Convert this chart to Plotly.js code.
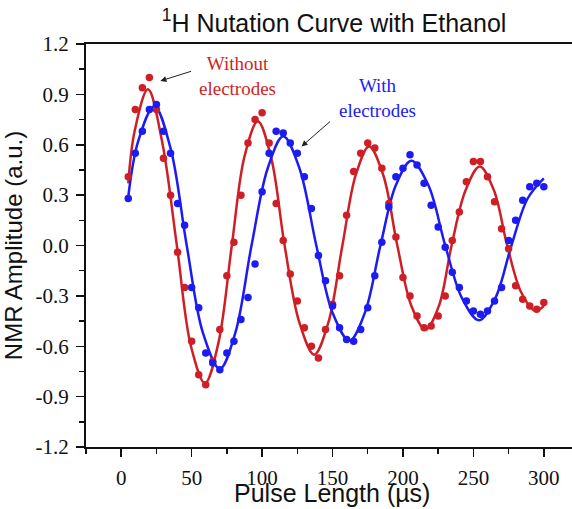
<!DOCTYPE html>
<html>
<head>
<meta charset="utf-8">
<script src="https://cdn.plot.ly/plotly-3.0.1.min.js"></script>
<style>html,body{margin:0;padding:0;background:#fff;}#chart{width:572px;height:509px;}</style>
</head>
<body>
<div id="chart"></div>
<script>
// Pulse lengths (µs)
var pulseX = [5,10,15,20,25,30,35,40,45,50,55,60,65,70,75,80,85,90,95,100,
  105,110,115,120,125,130,135,140,145,150,155,160,165,170,175,180,185,190,195,200,
  205,210,215,220,225,230,235,240,245,250,255,260,265,270,275,280,285,290,295,300];

// Without electrodes (red) measured amplitudes
var withoutY = [0.41,0.81,0.94,1.00,0.81,0.52,0.30,-0.04,-0.25,-0.57,-0.77,-0.83,-0.69,-0.50,-0.18,0.02,0.30,0.61,0.75,0.79,
  0.61,0.25,0.03,-0.17,-0.33,-0.49,-0.60,-0.67,-0.50,-0.35,-0.18,0.18,0.44,0.55,0.61,0.58,0.46,0.25,0.05,-0.19,
  -0.30,-0.42,-0.49,-0.48,-0.42,-0.30,0.03,0.20,0.38,0.50,0.50,0.41,0.26,0.10,-0.02,-0.24,-0.32,-0.36,-0.38,-0.34];

// With electrodes (blue) measured amplitudes
var withY = [0.28,0.55,0.68,0.81,0.84,0.68,0.55,0.25,0.12,-0.25,-0.37,-0.64,-0.70,-0.74,-0.64,-0.57,-0.44,-0.31,-0.11,0.32,
  0.55,0.68,0.67,0.61,0.55,0.41,0.22,-0.06,-0.21,-0.36,-0.49,-0.56,-0.57,-0.50,-0.37,-0.18,0.02,0.23,0.41,0.46,
  0.54,0.48,0.37,0.24,0.11,-0.01,-0.16,-0.25,-0.33,-0.39,-0.41,-0.39,-0.33,-0.25,0.03,0.15,0.27,0.35,0.37,0.35];

// Fitted curves (knots)
var redFitX = [5,9.5,19,29,39.5,49.5,59.5,69,78.5,87.5,97,106.5,116,126.5,137,147,157,166.5,176,186,196,206,216,225.5,234.5,244.5,254.5,264.5,274,284,294,300];
var redFitY = [0.37,0.68,0.93,0.62,0.00,-0.60,-0.82,-0.58,0.00,0.53,0.74,0.52,0.00,-0.46,-0.65,-0.46,0.00,0.42,0.59,0.42,0.00,-0.36,-0.50,-0.36,0.00,0.33,0.47,0.33,0.00,-0.28,-0.39,-0.36];
var blueFitX = [5,12,23.5,35,46.5,58,70,81,92.5,104,115,126.5,138.5,150,162,173,184,195,206,218,230,242,254,265.5,277,288.5,300];
var blueFitY = [0.29,0.62,0.83,0.58,0.00,-0.52,-0.735,-0.52,0.00,0.46,0.65,0.46,0.00,-0.40,-0.567,-0.40,0.00,0.36,0.505,0.36,0.00,-0.315,-0.445,-0.315,0.00,0.28,0.40];

var yTickVals = [-1.2,-0.9,-0.6,-0.3,0,0.3,0.6,0.9,1.2];
var yTickText = ['-1.2','-0.9','-0.6','-0.3','0.0','0.3','0.6','0.9','1.2'];

var RED = '#cf1f26', BLUE = '#1c1cf2';

var traces = [
  {x: redFitX, y: redFitY, mode: 'lines', line: {color: RED, width: 2.5, shape: 'spline', smoothing: 1}, hoverinfo: 'skip'},
  {x: blueFitX, y: blueFitY, mode: 'lines', line: {color: BLUE, width: 2.5, shape: 'spline', smoothing: 1}, hoverinfo: 'skip'},
  {x: pulseX, y: withoutY, mode: 'markers', marker: {color: RED, size: 7.5}, name: 'Without electrodes'},
  {x: pulseX, y: withY, mode: 'markers', marker: {color: BLUE, size: 7.5}, name: 'With electrodes'}
];

var serif = "'Liberation Serif', 'Times New Roman', serif";
var sans = "'Liberation Sans', Arial, sans-serif";

var layout = {
  width: 572, height: 509,
  margin: {l: 86, r: 0, t: 44, b: 62},
  paper_bgcolor: '#fff', plot_bgcolor: '#fff',
  font: {family: serif, size: 21, color: '#111'},
  showlegend: false,
  title: {text: '<sup>1</sup>H Nutation Curve with Ethanol', font: {family: sans, size: 25, color: '#111'},
          xref: 'container', x: 0.584, xanchor: 'center', yref: 'container', y: 0.955, yanchor: 'middle'},
  xaxis: {
    range: [-25, 320], tick0: 0, dtick: 50, showgrid: false, zeroline: false,
    showline: true, linecolor: '#111', linewidth: 2, mirror: true,
    ticks: 'outside', ticklen: 8, tickwidth: 1.5, tickcolor: '#111', ticklabelstandoff: 3,
    minor: {dtick: 25, ticks: 'outside', ticklen: 5, tickwidth: 1.5, tickcolor: '#111', showgrid: false},
    tickfont: {family: serif, size: 21, color: '#111'}
  },
  yaxis: {
    range: [-1.2, 1.2], tickmode: 'array', tickvals: yTickVals, ticktext: yTickText,
    showgrid: false, zeroline: false,
    showline: true, linecolor: '#111', linewidth: 2, mirror: false,
    ticks: 'outside', ticklen: 8, tickwidth: 1.5, tickcolor: '#111', ticklabelstandoff: 3,
    minor: {tickmode: 'linear', tick0: 0, dtick: 0.15, ticks: 'outside', ticklen: 5, tickwidth: 1.5, tickcolor: '#111', showgrid: false},
    tickfont: {family: serif, size: 21, color: '#111'},
    title: {text: 'NMR Amplitude (a.u.)', font: {family: sans, size: 24, color: '#111'}, standoff: 6}
  },
  annotations: [
    {xref: 'paper', yref: 'paper', x: 0.506, y: -0.153, xanchor: 'center', yanchor: 'bottom',
     text: 'Pulse Length (µs)', showarrow: false, font: {family: sans, size: 25, color: '#111'}},
    {x: 82.7, y: 1.01, xref: 'x', yref: 'y', text: 'Without<br>electrodes', showarrow: false,
     font: {family: serif, size: 19, color: RED}, align: 'center'},
    {x: 181.8, y: 0.88, xref: 'x', yref: 'y', text: 'With<br>electrodes', showarrow: false,
     font: {family: serif, size: 19, color: BLUE}, align: 'center'},
    {x: 27.8, y: 0.98, ax: 50.6, ay: 1.04, xref: 'x', yref: 'y', axref: 'x', ayref: 'y', text: '',
     showarrow: true, arrowhead: 2, arrowsize: 1.2, arrowwidth: 1, arrowcolor: '#222', standoff: 0},
    {x: 128, y: 0.59, ax: 149.3, ay: 0.746, xref: 'x', yref: 'y', axref: 'x', ayref: 'y', text: '',
     showarrow: true, arrowhead: 2, arrowsize: 1.2, arrowwidth: 1, arrowcolor: '#222', standoff: 0}
  ]
};

Plotly.newPlot('chart', traces, layout, {displayModeBar: false, staticPlot: true});
</script>
</body>
</html>
